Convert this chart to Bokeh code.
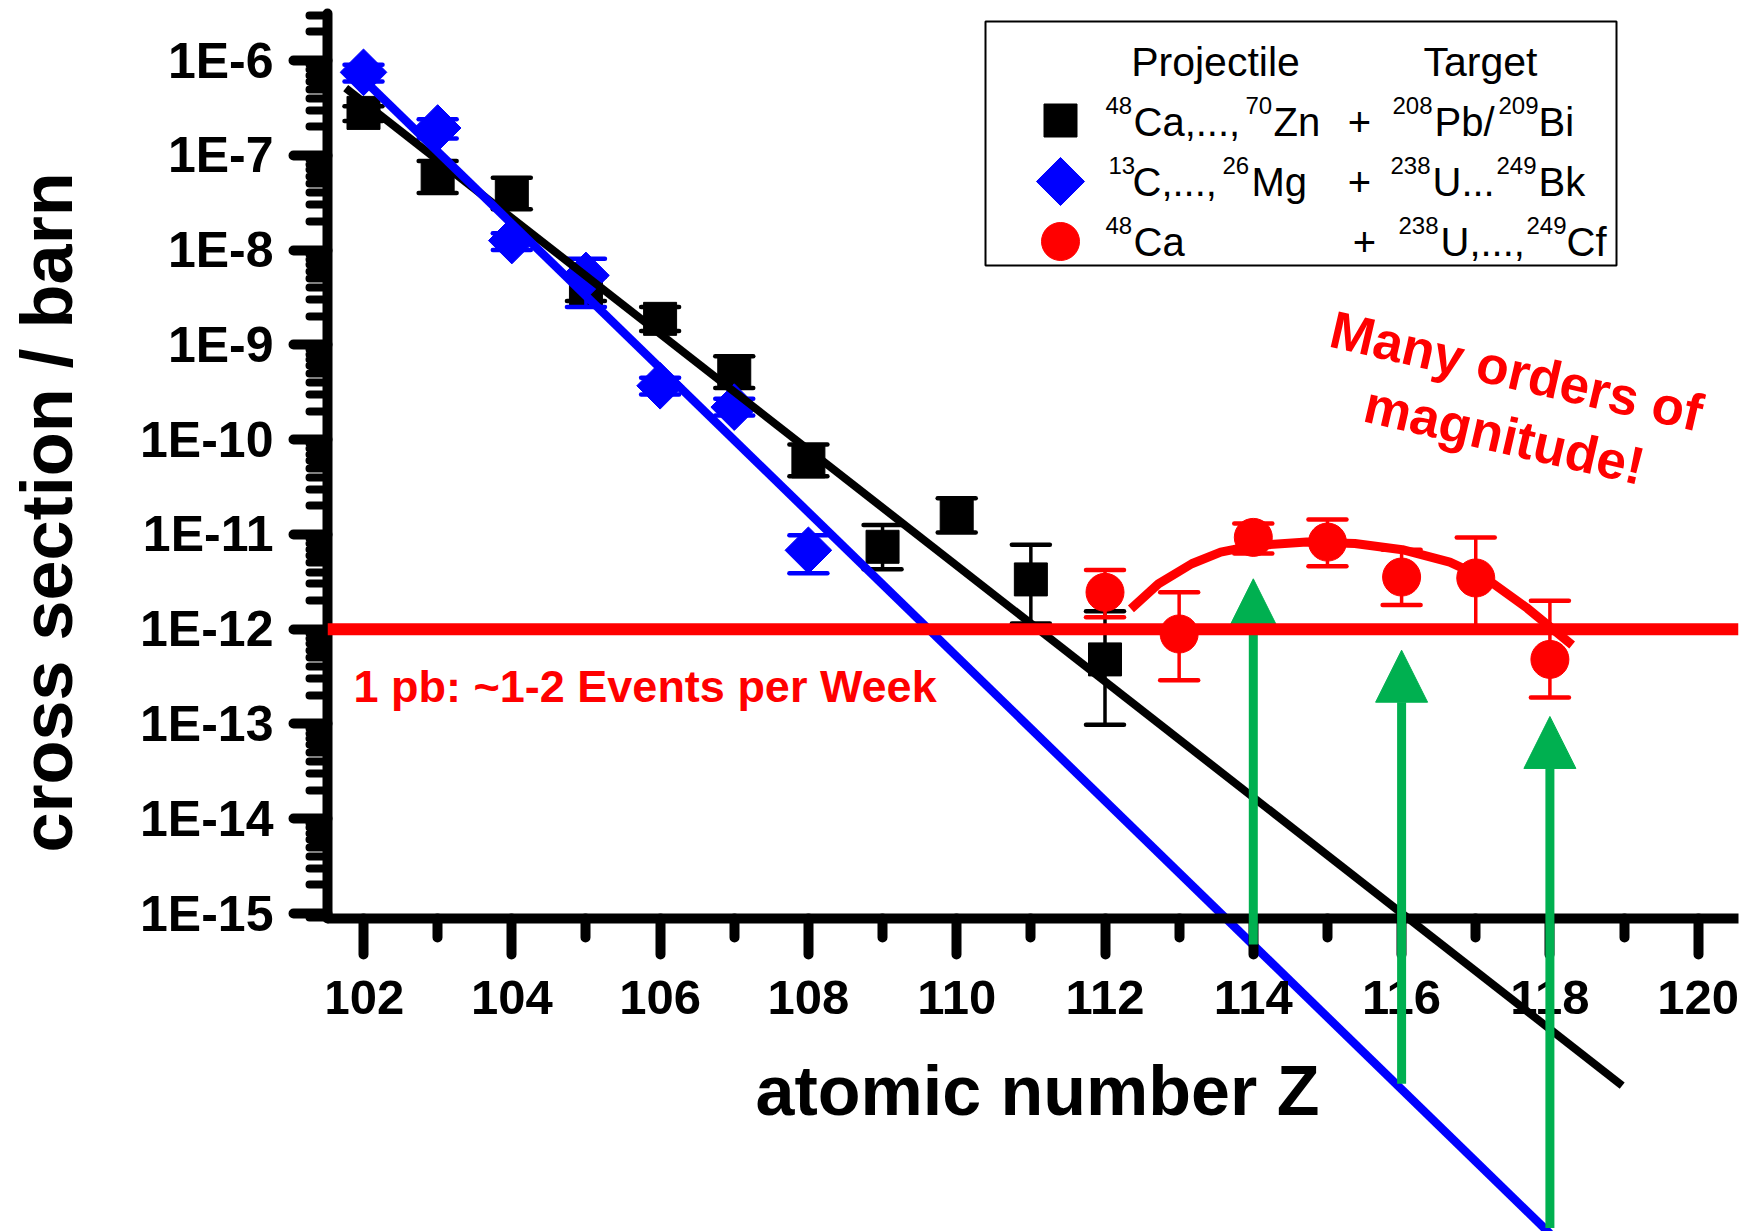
import numpy as np
from bokeh.plotting import figure
from bokeh.models import (Range1d, FixedTicker, CustomJSTickFormatter, ColumnDataSource,
                          Arrow, NormalHead, Span, Label)
from bokeh.core.properties import value
from bokeh.embed import file_html
from bokeh.resources import INLINE

# ------------------------------------------------------------------ data
# 48Ca,...,70Zn + 208Pb/209Bi  (black squares)
z_cold = [102, 103, 104, 105, 106, 107, 108, 109, 110, 111, 112]
sig_cold = [2.8e-7, 5.9e-8, 4.0e-8, 3.9e-9, 1.88e-9, 5.1e-10, 5.9e-11, 7.4e-12, 1.58e-11, 3.35e-12, 4.8e-13]
hi_cold = [3.3e-7, 8.7e-8, 5.8e-8, 5.2e-9, 2.5e-9, 7.6e-10, 8.9e-11, 1.26e-11, 2.4e-11, 7.8e-12, 1.55e-12]
lo_cold = [2.3e-7, 4.0e-8, 2.7e-8, 2.9e-9, 1.4e-9, 3.5e-10, 4.1e-11, 4.3e-12, 1.05e-11, 1.15e-12, 9.8e-14]

# 13C,...,26Mg + 238U...249Bk  (blue diamonds)
z_light = [102, 103, 104, 105, 106, 107, 108]
sig_light = [7.5e-7, 1.94e-7, 1.26e-8, 5.4e-9, 3.7e-10, 2.2e-10, 6.8e-12]
hi_light = [9.0e-7, 2.4e-7, 1.5e-8, 8.1e-9, 4.5e-10, 2.7e-10, 9.8e-12]
lo_light = [6.0e-7, 1.5e-7, 1.0e-8, 2.5e-9, 3.0e-10, 1.8e-10, 3.9e-12]

# 48Ca + 238U,...,249Cf  (red circles)
z_hot = [112, 113, 114, 115, 116, 117, 118]
sig_hot = [2.45e-12, 8.9e-13, 9.3e-12, 8.3e-12, 3.55e-12, 3.47e-12, 4.8e-13]
hi_hot = [4.2e-12, 2.45e-12, 1.3e-11, 1.44e-11, 6.9e-12, 9.3e-12, 2.0e-12]
lo_hot = [1.34e-12, 2.9e-13, 6.3e-12, 4.6e-12, 1.8e-12, 1.0e-12, 1.9e-13]

# fitted trends
fit_cold_z = [101.76, 118.975]
fit_cold_sig = [5.1e-7, 1.53e-17]
fit_light_z = [102.0, 118.0]
fit_light_sig = [6.3e-7, 4.2e-19]
hot_curve_z = [112.35, 112.72, 113.17, 113.56, 114.0, 114.72, 115.37, 116.01, 116.65, 117.17, 117.68, 118.3]
hot_curve_sig = [1.64e-12, 3.0e-12, 4.9e-12, 6.5e-12, 7.6e-12, 8.3e-12, 8.0e-12, 6.9e-12, 5.1e-12, 3.3e-12, 1.7e-12, 6.8e-13]

# green arrows (from extrapolated trend up to marker)
arrow_z = [114, 116, 118]
arrow_from = [4.7e-16, 1.6e-17, 4.8e-19]
arrow_to = [3.4e-12, 6.0e-13, 1.2e-13]

limit_1pb = 1e-12

x_ticks = [102, 104, 106, 108, 110, 112, 114, 116, 118, 120]
x_minor = [103, 105, 107, 109, 111, 113, 115, 117, 119]
y_ticks = [1e-15, 1e-14, 1e-13, 1e-12, 1e-11, 1e-10, 1e-9, 1e-8, 1e-7, 1e-6]
y_minor = [m * 10.0 ** e for e in range(-16, -5) for m in range(2, 10)]
y_minor = [v for v in y_minor if 8.8e-16 <= v <= 3.2e-6]

# ------------------------------------------------------------------ layout helpers
# reference-pixel -> data conversion for decorative annotations (legend, notes)
def sx(px):
    return 102 + (px - 363) / 74.15

def sy(py):
    return 10 ** (-6 - (py - 60) / 94.78)

def sb(py, fs):
    # baseline pixel -> data y, compensating the renderer's baseline offset
    return sy(py - 0.33 * fs)

BLACK, BLUE, RED, GREEN = "#000000", "#0000FF", "#FF0000", "#00B050"
FONT = "Liberation Sans"

p = figure(width=1749, height=1231,
           x_range=Range1d(sx(327), sx(1738)), y_range=Range1d(sy(1231), sy(13)),
           y_axis_type="log", output_backend="svg", toolbar_location=None, title=None,
           min_border_left=327, min_border_right=11, min_border_top=13, min_border_bottom=0)
p.outline_line_color = None
p.grid.visible = False
p.background_fill_color = "white"
p.border_fill_color = "white"

# ---- x axis (drawn at bottom of the y scale, inside the frame)
xa = p.xaxis[0]
xa.fixed_location = sy(918)
xa.bounds = (sx(327), sx(1738))
xa.ticker = FixedTicker(ticks=x_ticks, minor_ticks=x_minor)
xa.axis_line_width = 10
xa.axis_line_cap = "round"
xa.major_tick_line_width = 10
xa.major_tick_line_cap = "round"
xa.major_tick_out = 36
xa.major_tick_in = 0
xa.minor_tick_line_width = 10
xa.minor_tick_line_cap = "round"
xa.minor_tick_out = 19
xa.minor_tick_in = 0
xa.major_label_text_font = FONT
xa.major_label_text_font_style = "bold"
xa.major_label_text_font_size = "49px"
xa.major_label_text_color = BLACK
xa.major_label_standoff = 26

# ---- y axis
ya = p.yaxis[0]
ya.bounds = (sy(918), sy(13))
ya.ticker = FixedTicker(ticks=y_ticks, minor_ticks=y_minor)
ya.formatter = CustomJSTickFormatter(code="return '1E' + Math.round(Math.log10(tick));")
ya.axis_line_width = 10
ya.axis_line_cap = "round"
ya.major_tick_line_width = 10
ya.major_tick_line_cap = "round"
ya.major_tick_out = 34
ya.major_tick_in = 0
ya.minor_tick_line_width = 8
ya.minor_tick_line_cap = "round"
ya.minor_tick_out = 18
ya.minor_tick_in = 0
ya.major_label_text_font = FONT
ya.major_label_text_font_style = "bold"
ya.major_label_text_font_size = "50px"
ya.major_label_text_color = BLACK
ya.major_label_standoff = 20
# title centred on the upper (bounded) part of the axis: leading no-break spaces
# move the visible words up along the axis
ya.axis_label = "\u00a0" * 11 + "cross section / barn"
ya.axis_label_text_font = FONT
ya.axis_label_text_font_style = "bold"
ya.axis_label_text_font_size = "72px"
ya.axis_label_text_color = BLACK
ya.axis_label_standoff = 50

# ---- black series
p.segment(x0=z_cold, y0=lo_cold, x1=z_cold, y1=hi_cold, line_color=BLACK, line_width=3.5)
p.scatter(z_cold + z_cold, lo_cold + hi_cold, marker="dash", size=38, line_color=BLACK,
          line_width=4.5, line_cap="round")
p.scatter(z_cold, sig_cold, marker="square", size=33, fill_color=BLACK, line_color=BLACK)

# ---- blue series
p.segment(x0=z_light, y0=lo_light, x1=z_light, y1=hi_light, line_color=BLUE, line_width=3.5)
p.scatter(z_light + z_light, lo_light + hi_light, marker="dash", size=38, line_color=BLUE,
          line_width=4.5, line_cap="round")
p.scatter(z_light, sig_light, marker="square", angle=np.pi / 4, size=33,
          fill_color=BLUE, line_color=BLUE)

# ---- trend lines
p.line(fit_cold_z, fit_cold_sig, line_color=BLACK, line_width=8)
p.line(fit_light_z, fit_light_sig, line_color=BLUE, line_width=8.5)

# ---- red series
p.segment(x0=z_hot, y0=lo_hot, x1=z_hot, y1=hi_hot, line_color=RED, line_width=3.5)
p.scatter(z_hot + z_hot, lo_hot + hi_hot, marker="dash", size=38, line_color=RED,
          line_width=4.5, line_cap="round")
p.scatter(z_hot, sig_hot, marker="circle", size=38, fill_color=RED, line_color=RED)
p.line(hot_curve_z, hot_curve_sig, line_color=RED, line_width=9)

# ---- custom legend
p.quad(left=[sx(985)], right=[sx(1616)], top=[sy(21)], bottom=[sy(265)],
       fill_color="white", line_color=BLACK, line_width=2)
p.scatter([sx(1060)], [sy(120)], marker="square", size=33, fill_color=BLACK, line_color=BLACK)
p.scatter([sx(1060)], [sy(181)], marker="square", angle=np.pi / 4, size=34,
          fill_color=BLUE, line_color=BLUE)
p.scatter([sx(1060)], [sy(241)], marker="circle", size=38, fill_color=RED, line_color=RED)

MAIN, SUP = 40, 24
legend_pieces = [
    # text, x px, baseline px, size, align
    ("Projectile", 1215, 75, 41, "center"),
    ("Target", 1480, 75, 41, "center"),
    ("48", 1105, 113, SUP, "left"), ("Ca,...,", 1133, 135, MAIN, "left"),
    ("70", 1245, 113, SUP, "left"), ("Zn", 1273, 135, MAIN, "left"),
    ("+", 1359, 135, MAIN, "center"),
    ("208", 1392, 113, SUP, "left"), ("Pb/", 1434, 135, MAIN, "left"),
    ("209", 1498, 113, SUP, "left"), ("Bi", 1538, 135, MAIN, "left"),
    ("13", 1108, 173, SUP, "left"), ("C,...,", 1132, 195, MAIN, "left"),
    ("26", 1222, 173, SUP, "left"), ("Mg", 1251, 195, MAIN, "left"),
    ("+", 1359, 195, MAIN, "center"),
    ("238", 1390, 173, SUP, "left"), ("U...", 1432, 195, MAIN, "left"),
    ("249", 1496, 173, SUP, "left"), ("Bk", 1538, 195, MAIN, "left"),
    ("48", 1105, 233, SUP, "left"), ("Ca", 1133, 255, MAIN, "left"),
    ("+", 1364, 255, MAIN, "center"),
    ("238", 1398, 233, SUP, "left"), ("U,...,", 1440, 255, MAIN, "left"),
    ("249", 1526, 233, SUP, "left"), ("Cf", 1566, 255, MAIN, "left"),
]
for t, px, py, fs, al in legend_pieces:
    p.text(x=[sx(px)], y=[sb(py, fs)], text=[t], text_font=value(FONT),
           text_font_size=value(f"{fs}px"), text_align=al, text_baseline="alphabetic",
           text_color=BLACK)

# ---- arrows, 1 pb line, notes
arrow_src = ColumnDataSource(dict(z=arrow_z, y0=arrow_from, y1=arrow_to))
p.add_layout(Arrow(x_start="z", y_start="y0", x_end="z", y_end="y1", source=arrow_src,
                   line_color=GREEN, line_width=9,
                   end=NormalHead(size=52, fill_color=GREEN, line_color=GREEN, line_width=1)))
p.add_layout(Span(location=limit_1pb, dimension="width", line_color=RED, line_width=12))

p.add_layout(Label(x=sx(353), y=sb(701, 45), text="1 pb: ~1-2 Events per Week",
                   text_font=FONT, text_font_style="bold", text_font_size="45px",
                   text_color=RED, text_align="left", text_baseline="alphabetic"))
p.add_layout(Label(x=sx(1516), y=sb(388, 53), text="Many orders of", angle=-0.227,
                   text_font=FONT, text_font_style="bold", text_font_size="53px",
                   text_color=RED, text_align="center", text_baseline="alphabetic"))
p.add_layout(Label(x=sx(1504), y=sb(452, 53), text="magnitude!", angle=-0.227,
                   text_font=FONT, text_font_style="bold", text_font_size="53px",
                   text_color=RED, text_align="center", text_baseline="alphabetic"))

# ---- x axis title
p.add_layout(Label(x=sx(1037), y=sb(1114, 70), text="atomic number Z",
                   text_font=FONT, text_font_style="bold", text_font_size="70px",
                   text_color=BLACK, text_align="center", text_baseline="alphabetic"))

open("out.html", "w").write(file_html(p, INLINE))
